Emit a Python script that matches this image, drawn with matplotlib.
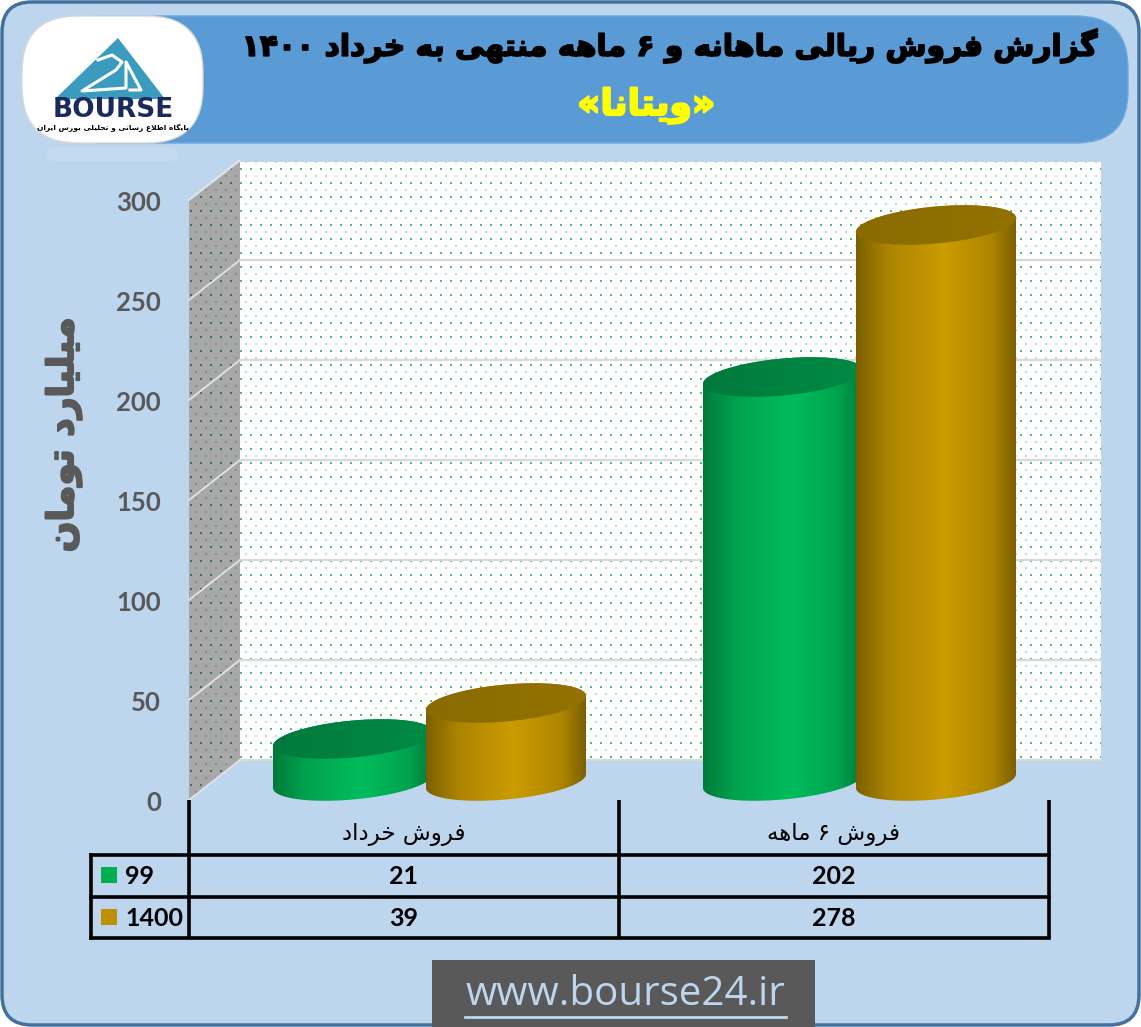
import numpy as np
import matplotlib
matplotlib.use("Agg")
import matplotlib.pyplot as plt
import matplotlib.patheffects as pe
from matplotlib.colors import LinearSegmentedColormap
from matplotlib.patches import FancyBboxPatch, Polygon, Rectangle

W, H = 1141, 1027

categories = ["فروش خرداد", "فروش ۶ ماهه"]
sales_99 = [21, 202]
sales_1400 = [39, 278]
series_names = ["99", "1400"]
y_ticks = [0, 50, 100, 150, 200, 250, 300]
title = "گزارش فروش ریالی ماهانه و ۶ ماهه منتهی به خرداد ۱۴۰۰"
subtitle = "«ویتانا»"
y_label = "میلیارد تومان"
logo_caption = "پایگاه اطلاع رسانی و تحلیلی بورس ایران"
site = "www.bourse24.ir"

BG = "#BDD6EE"
BAND = "#5B9BD5"
GREY = "#595959"

# isolated, final, initial, medial (two entries = does not join forward)
FORMS = {
    "ا": (0xFE8D, 0xFE8E), "د": (0xFEA9, 0xFEAA), "ر": (0xFEAD, 0xFEAE),
    "ز": (0xFEAF, 0xFEB0), "و": (0xFEED, 0xFEEE),
    "ب": (0xFE8F, 0xFE90, 0xFE91, 0xFE92), "پ": (0xFB56, 0xFB57, 0xFB58, 0xFB59),
    "ت": (0xFE95, 0xFE96, 0xFE97, 0xFE98), "ح": (0xFEA1, 0xFEA2, 0xFEA3, 0xFEA4),
    "خ": (0xFEA5, 0xFEA6, 0xFEA7, 0xFEA8), "س": (0xFEB1, 0xFEB2, 0xFEB3, 0xFEB4),
    "ش": (0xFEB5, 0xFEB6, 0xFEB7, 0xFEB8), "ط": (0xFEC1, 0xFEC2, 0xFEC3, 0xFEC4),
    "ع": (0xFEC9, 0xFECA, 0xFECB, 0xFECC), "ف": (0xFED1, 0xFED2, 0xFED3, 0xFED4),
    "گ": (0xFB92, 0xFB93, 0xFB94, 0xFB95), "ل": (0xFEDD, 0xFEDE, 0xFEDF, 0xFEE0),
    "م": (0xFEE1, 0xFEE2, 0xFEE3, 0xFEE4), "ن": (0xFEE5, 0xFEE6, 0xFEE7, 0xFEE8),
    "ه": (0xFEE9, 0xFEEA, 0xFEEB, 0xFEEC), "ی": (0xFBFC, 0xFBFD, 0xFBFE, 0xFBFF),
}


def shape(text):
    # matplotlib has no bidi or joining, so pick the forms and reverse by hand
    out = []
    i = 0
    while i < len(text):
        ch = text[i]
        prev = text[i - 1] if i else ""
        nxt = text[i + 1] if i + 1 < len(text) else ""
        joins_back = prev in FORMS and len(FORMS[prev]) == 4
        if ch == "ل" and nxt == "ا":
            out.append(chr(0xFEFC if joins_back else 0xFEFB))
            i += 2
            continue
        if ch in FORMS:
            f = FORMS[ch]
            joins_next = len(f) == 4 and nxt in FORMS
            if joins_back and joins_next:
                out.append(chr(f[3]))
            elif joins_back:
                out.append(chr(f[1]))
            elif joins_next:
                out.append(chr(f[2]))
            else:
                out.append(chr(f[0]))
        else:
            out.append(ch)
        i += 1
    # reverse, digits stay in reading order
    res, run = [], []
    for ch in reversed(out):
        if ch in "۰۱۲۳۴۵۶۷۸۹":
            run.insert(0, ch)
        else:
            res += run
            run = []
            res.append({"«": "»", "»": "«"}.get(ch, ch))
    return "".join(res + run)


def heavy(width, color):
    return [pe.withStroke(linewidth=width, foreground=color)]


fig = plt.figure(figsize=(W / 100, H / 100), dpi=100, facecolor="white")

# pixel axes for the frame, wall and table
bg = fig.add_axes([0, 0, 1, 1], zorder=0)
bg.set_xlim(0, W)
bg.set_ylim(H, 0)
bg.axis("off")

# value axes: x in categories, y in value units, 2 px per unit
ax = fig.add_axes([0, 0, 1, 1], zorder=1)
ax.set_xlim(-404 / 430, (W - 404) / 430)
ax.set_ylim((800 - H) / 2, 400)
ax.axis("off")
ax.patch.set_visible(False)


def ypx(v):
    return 800 - 2 * v


bg.add_patch(FancyBboxPatch((32, 32), W - 64, H - 64, boxstyle="round,pad=30,rounding_size=30",
                            fc=BG, ec="#41719C", lw=2.5))
bg.add_patch(FancyBboxPatch((70, 36), 1038, 87, boxstyle="round,pad=20,rounding_size=52",
                            fc=BAND, ec="#6FA8DC", lw=1))

# dotted wall texture
yy, xx = np.mgrid[0:H, 0:W]
row = yy // 7
dots = ((xx + 5 * (row % 2)) % 10 < 2) & (yy % 7 < 2)
strong = dots & (row % 2 == 0)
faint = dots & (row % 2 == 1)

wall = np.ones((H, W, 3))
wall[faint] = [0.70, 0.89, 0.80]
wall[strong] = [0.32, 0.73, 0.53]
im = bg.imshow(wall, extent=(0, W, H, 0), interpolation="nearest", aspect="auto", zorder=1)
im.set_clip_path(Rectangle((240, 162), 861, 598, transform=bg.transData))

side = np.full((H, W, 3), 0.66)
side[faint] = [0.50, 0.58, 0.54]
side[strong] = [0.24, 0.46, 0.35]
im = bg.imshow(side, extent=(0, W, H, 0), interpolation="nearest", aspect="auto", zorder=1)
im.set_clip_path(Polygon([(189, 201), (240, 162), (240, 760), (189, 800)], transform=bg.transData))
bg.set_xlim(0, W)
bg.set_ylim(H, 0)

for t in y_ticks:
    y = ypx(t)
    if t > 0:
        bg.plot([189, 240], [y, y - 40], color="#E4E4E4", lw=1.3, zorder=2)
    if 0 < t < 300:
        bg.plot([240, 1101], [y - 40, y - 40], color="#D9D9D9", lw=1.6, zorder=2)
    ax.text(-404 / 430 + 161 / 430, t - 1.7, str(t), ha="right", va="center", fontsize=18.5,
            fontweight="bold", color=GREY, family="Lato")
bg.plot([240, 1101], [760, 760], color="#D9D9D9", lw=1.6, zorder=2)
bg.plot([189, 240], [800, 760], color="#E4E4E4", lw=1.3, zorder=2)

A, B, TILT = 80, 18.5, 7  # cylinder ellipse, px
DEPTH = 9.5  # base centre sits 19 px behind the front edge


def cylinder(cat, off, value, dark, light, top_a, top_b):
    cx = cat + off / 430
    a = A / 430
    t = np.linspace(0, 2 * np.pi, 181)
    ex = a * np.cos(t)
    # value units: 2 px = 1
    ey = (B * np.sin(t) + TILT * np.cos(t)) / 2
    lower = t[(t >= np.pi)]
    lx = a * np.cos(lower)
    ly = (B * np.sin(lower) + TILT * np.cos(lower)) / 2
    upper = t[(t <= np.pi)]
    ux = a * np.cos(upper)
    uy = (B * np.sin(upper) + TILT * np.cos(upper)) / 2
    top = value + DEPTH
    outline = np.r_[np.c_[cx + lx, DEPTH + ly], np.c_[cx + ux, top + uy]]
    body = Polygon(outline, fc="none", ec="none", transform=ax.transData)
    ax.add_patch(body)
    grad = np.interp(np.linspace(0, 1, 256), [0, 0.2, 0.55, 0.85, 1], [0, 0.6, 1, 0.62, 0])[None, :]
    cmap = LinearSegmentedColormap.from_list("c", [dark, light])
    im = ax.imshow(grad, cmap=cmap, extent=(cx - a, cx + a, DEPTH - 15, top + 15), aspect="auto",
                   interpolation="bilinear", zorder=3 + off / 1000)
    im.set_clip_path(body)
    cap = Polygon(np.c_[cx + ex, top + ey], fc="none", ec="none", transform=ax.transData)
    ax.add_patch(cap)
    cmap = LinearSegmentedColormap.from_list("t", [top_a, top_b])
    im = ax.imshow(np.linspace(0, 1, 64)[None, :], cmap=cmap, extent=(cx - a, cx + a, top - 15, top + 15),
                   aspect="auto", interpolation="bilinear", zorder=3.05 + off / 1000)
    im.set_clip_path(cap)


for i in range(len(categories)):
    cylinder(i, -51, sales_99[i], "#007A3A", "#00BC5C", "#007A3C", "#008A44")
for i in range(len(categories)):
    cylinder(i, 102, sales_1400[i], "#7C6000", "#CB9C00", "#8A6B00", "#937200")
ax.set_xlim(-404 / 430, (W - 404) / 430)
ax.set_ylim((800 - H) / 2, 400)

# data table under the chart
for x in (189, 619, 1049):
    bg.plot([x, x], [800, 938], color="black", lw=2.6, zorder=4, solid_capstyle="butt")
bg.plot([91, 91], [855, 938], color="black", lw=2.6, zorder=4)
for y in (855, 897, 938):
    bg.plot([91, 1049], [y, y], color="black", lw=2.6, zorder=4)

for i, name in enumerate(categories):
    ax.text(i, (800 - 835) / 2, shape(name), ha="center", va="center", fontsize=16.5, family="DejaVu Sans")
    ax.text(i, (800 - 876) / 2, str(sales_99[i]), ha="center", va="center", fontsize=18,
            fontweight="bold", family="Lato")
    ax.text(i, (800 - 918) / 2, str(sales_1400[i]), ha="center", va="center", fontsize=18,
            fontweight="bold", family="Lato")

for name, y, col in zip(series_names, (875, 917), ("#00B050", "#BF9000")):
    bg.add_patch(Rectangle((101, y - 8), 16, 16, fc=col, ec="none", zorder=5))
    bg.text(125, y + 1, name, ha="left", va="center", fontsize=18, fontweight="bold", family="Lato", zorder=5)

# titles
bg.text(670, 46, shape(title), ha="center", va="center", fontsize=21.4, fontweight="bold",
        family="DejaVu Sans", color="black", zorder=5, path_effects=heavy(1.2, "black"))
bg.text(646, 106, shape(subtitle), ha="center", va="center", fontsize=26, fontweight="bold",
        family="DejaVu Sans", color="#FFFF00", zorder=5, path_effects=heavy(1.5, "#FFFF00"))
bg.text(64, 435, shape(y_label), ha="center", va="center", rotation=90, fontsize=26, fontweight="bold",
        family="DejaVu Sans", color=GREY, zorder=5, path_effects=heavy(1.5, GREY))

# logo
blob = FancyBboxPatch((52, 46), 121, 67, boxstyle="round,pad=30,rounding_size=56", fc="white",
                      ec="#D8D8D8", lw=1, zorder=6)
bg.add_patch(blob)
bg.add_patch(Polygon([(118, 38), (55, 99), (165, 99)], fc="#3A9BBF", ec="none", zorder=7))
bg.plot([98, 112, 122, 116, 82, 126, 126, 141, 130], [60, 55, 62, 70, 91, 88, 62, 90, 90],
        color="white", lw=2.2, zorder=8)
bg.text(113, 110, "BOURSE", ha="center", va="center", fontsize=19, family="DejaVu Sans",
        fontweight="bold", color="#1B2A5E", zorder=8)
bg.text(113, 128, shape(logo_caption), ha="center", va="center", fontsize=5.4, fontweight="bold",
        family="DejaVu Sans", color="black", zorder=8)
bg.add_patch(FancyBboxPatch((50, 150), 125, 8, boxstyle="round,pad=3,rounding_size=6", fc="#C6DAEF",
                            ec="none", zorder=2))

# footer
bg.add_patch(Rectangle((432, 960), 383, 67, fc=GREY, ec="none", zorder=5))
bg.text(625, 995, site, ha="center", va="center", fontsize=29, family="Open Sans", color=BG, zorder=6)
bg.plot([465, 786], [1017, 1017], color=BG, lw=2, zorder=6)

fig.savefig("out.png", dpi=100)
